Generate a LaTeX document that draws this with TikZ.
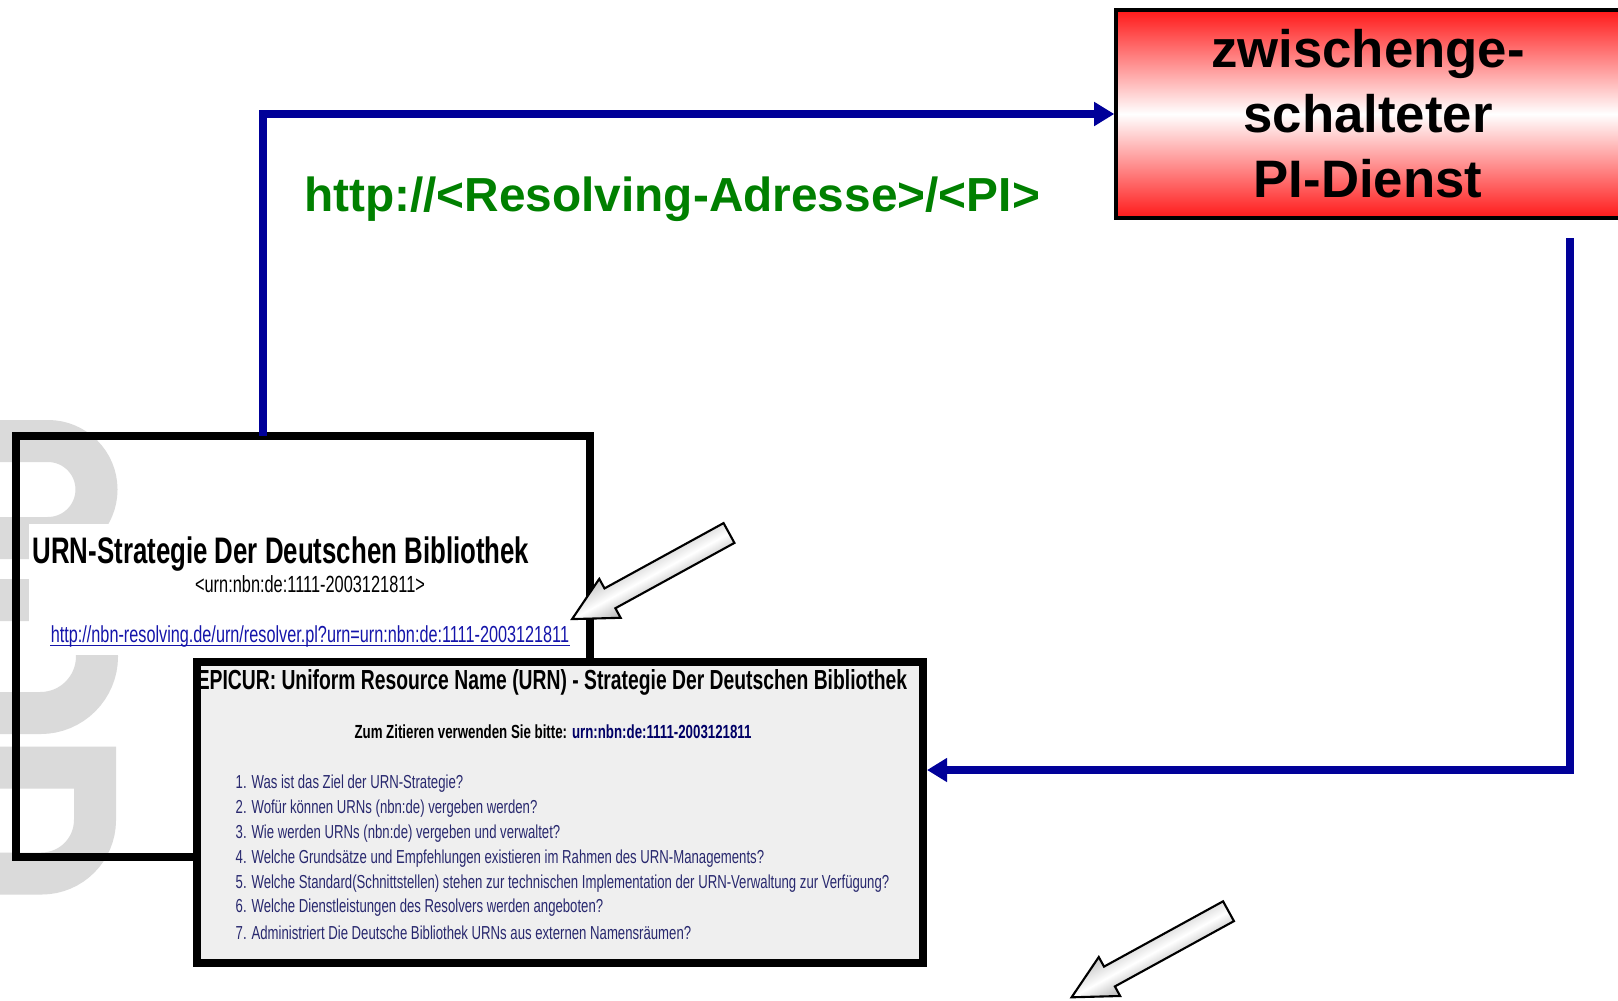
\documentclass[tikz,border=0pt]{standalone}
\usepackage{fontspec}
\setmainfont{Liberation Sans}
\newfontfamily\narrowfont[FakeStretch=0.7]{Liberation Sans}
\usepackage{tikz}
\usetikzlibrary{arrows.meta, positioning, calc}

\definecolor{linkblue}{RGB}{0,0,153}
\definecolor{urlgreen}{RGB}{0,128,0}
\definecolor{pired}{RGB}{255,25,25}
\definecolor{shotgray}{RGB}{239,239,239}
\definecolor{listblue}{RGB}{40,40,110}
\definecolor{hrefblue}{RGB}{20,20,170}
\definecolor{citeblue}{RGB}{0,0,102}
\definecolor{markgray}{RGB}{218,218,218}

\begin{document}
\begin{tikzpicture}[x=0.1mm, y=-0.1mm, >={Triangle[length=5.7pt,width=6.5pt]},
    shotbox/.style={draw, line width=0.8mm, inner sep=0pt, outer sep=0pt},
    bluelink/.style={draw=linkblue, line width=0.8mm},
    markstroke/.style={draw=markgray, line width=4.2mm},
    blockarrow/.style={draw=black, line width=0.6pt, top color=gray!60, bottom color=gray!45, middle color=white}]
  \useasboundingbox (0,0) rectangle (1618,1000);
  \fill[white] (0,0) rectangle (1618,1000);

  % watermark at the left edge
  \draw[markstroke] (-30,441) -- (48,441) arc[start angle=90, end angle=-90, radius=4.85mm] -- (-30,538);
  \draw[markstroke] (-30,600) -- (40.5,600) arc[start angle=90, end angle=-90, radius=5.65mm] -- (-30,713);
  \draw[markstroke] (-30,767.5) -- (95,767.5) -- (95,820) arc[start angle=0, end angle=-90, radius=5.35mm] -- (-30,873.5);

  % the PI service
  \node[draw=black, line width=0.35mm, top color=pired, bottom color=pired, middle color=white,
        minimum width=50.4mm, minimum height=20.8mm, align=center,
        font=\bfseries\fontsize{15}{18.5}\selectfont] (pi) at (1368,114)
        {zwischenge-\\schalteter\\PI-Dienst};
  \node[text=urlgreen, font=\bfseries\fontsize{13.6}{16}\selectfont] (resaddr) at (672,199)
        {http://<Resolving-Adresse>/<PI>};

  % first page: URN strategy
  \node[shotbox, minimum width=57.45mm, minimum height=42.1mm] (urnpage) at (302.75,646) {};
  \fill[white] (29,524) rectangle (583,655);
  \node[font=\narrowfont\bfseries\fontsize{10.5}{12}\selectfont] (urntitle) at (281,554)
        {URN-Strategie Der Deutschen Bibliothek};
  \node[font=\narrowfont\fontsize{6.65}{7}\selectfont] (urnid) at (310,584)
        {<urn:nbn:de:1111-2003121811>};
  \node[inner sep=0pt, text=hrefblue, font=\narrowfont\fontsize{6.6}{7}\selectfont] (urnlink) at (310,636)
        {http://nbn-resolving.de/urn/resolver.pl?urn=urn:nbn:de:1111-2003121811};
  \draw[hrefblue, line width=0.35pt] ([yshift=-0.9pt]urnlink.base west) -- ([yshift=-0.9pt]urnlink.base east);

  % second page: EPICUR
  \node[shotbox, fill=shotgray, minimum width=72.6mm, minimum height=30.15mm] (epicur) at (560,812.25) {};
  \node[font=\narrowfont\bfseries\fontsize{7.85}{9}\selectfont] (eptitle) at (552,682)
        {EPICUR: Uniform Resource Name (URN) - Strategie Der Deutschen Bibliothek};
  \draw[line width=0.8mm] (epicur.north west) rectangle (epicur.south east);
  \node[font=\narrowfont\bfseries\fontsize{5.4}{6}\selectfont] (epcite) at (553,732)
        {Zum Zitieren verwenden Sie bitte: \textcolor{citeblue}{urn:nbn:de:1111-2003121811}};
  \foreach \Row/\Item in {
      1/{Was ist das Ziel der URN-Strategie?},
      2/{Wofür können URNs (nbn:de) vergeben werden?},
      3/{Wie werden URNs (nbn:de) vergeben und verwaltet?},
      4/{Welche Grundsätze und Empfehlungen existieren im Rahmen des URN-Managements?},
      5/{Welche Standard(Schnittstellen) stehen zur technischen Implementation der URN-Verwaltung zur Verfügung?},
      6/{Welche Dienstleistungen des Resolvers werden angeboten?},
      7/{Administriert Die Deutsche Bibliothek URNs aus externen Namensräumen?}
    }
    \node[anchor=west, inner sep=0pt, text=listblue, font=\narrowfont\fontsize{5.35}{6}\selectfont]
      (item\Row) at (235,{784+24.8*(\Row-1)}) {\Row. \Item};

  % connectors
  \draw[bluelink, ->] ($(urnpage.north west)!0.4308!(urnpage.north east)$) |- (pi.west);
  \coordinate (drop) at (1570,238);
  \coordinate (bend) at (1570,770);
  \draw[bluelink, ->, shorten >=0.4mm] (drop) -- (bend) -- (bend -| epicur.east);

  % pointer arrows
  \foreach \Tx/\Ty in {729/533, 1228.5/911.2}{
    \begin{scope}[transform canvas={shift={(\Tx,\Ty)}, rotate=208.75}]
      \draw[blockarrow] (0,-11.3) -- (135.8,-11.3) -- (135.8,-22.2) -- (179,0)
        -- (135.8,22.2) -- (135.8,11.3) -- (0,11.3) -- cycle;
    \end{scope}
  }
\end{tikzpicture}
\end{document}
